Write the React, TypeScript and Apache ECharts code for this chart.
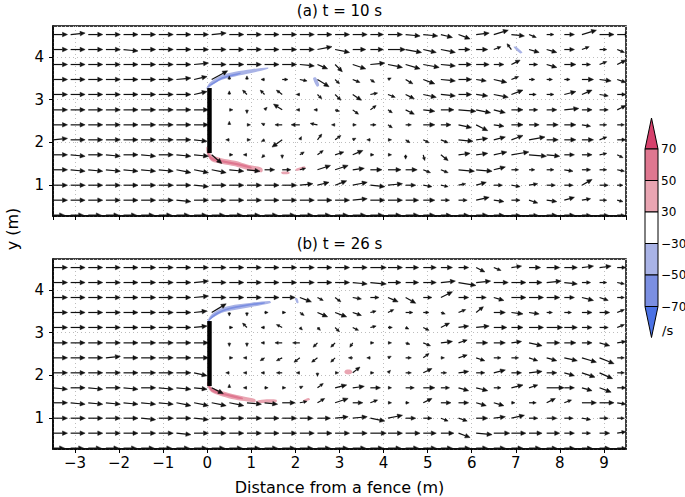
import React, { useEffect, useRef } from "react";
import * as echarts from "echarts";

// ---- grid of the vector field (m) ----
const X_GRID = [-3.5, -3.1, -2.7, -2.3, -1.9, -1.5, -1.1, -0.7, -0.3, 0.1, 0.5, 0.9, 1.3, 1.7, 2.1, 2.5, 2.9, 3.3, 3.7, 4.1, 4.5, 4.9, 5.3, 5.7, 6.1, 6.5, 6.9, 7.3, 7.7, 8.1, 8.5, 8.9, 9.3];
// rows listed from top (y = 4.52) to bottom (y = 0.30)
const Y_ROWS = [4.52, 4.17, 3.82, 3.47, 3.12, 2.76, 2.41, 2.06, 1.71, 1.36, 1.0, 0.65, 0.3];

// ---- panel (a) t = 10 s : u and v components (10 = free-stream arrow) ----
const U_A = [
  [10,10,10,10,10,10,10,10,10,10,10,10,10,10,10,10, 10,10,9,10,10,10, 8,8,9,10,9,5,5,7,10,10,9],
  [10,10,10,10,10,10,10,10,10,10,10,10,10,10,10,10, 10,9,9,12,11,9, 10,8,8,5,-3,7,7,7,5,5,5],
  [10,10,10,10,10,10,10,10,10,10,10,10,10,10,10,7, 5,9,10,10,10,11, 10,9,9,7,6,6,7,8,6,5,6],
  [10,10,10,10,10,10,10,10,9,11,0,0,-1,4,5,8, 3,5,3,2,5,8, 10,9,7,9,5,4,4,4,8,8,6],
  [10,10,10,10,10,10,10,10,9,0,0,-3,-3,-4,-2,3, 4,6,5,5,6,9, 10,9,8,10,8,5,5,8,7,6,6],
  [10,10,10,10,10,10,10,10,10,0,1,0,1,-6,-2,-2, 3,4,4,3,6,8, 9,12,10,8,8,6,7,10,7,6,6],
  [10,10,10,10,10,10,10,10,10,0,0,2,-2,-5,-6,-5, -2,2,4,3,4,8, 7,9,8,7,8,7,8,8,6,5,5],
  [10,10,10,10,10,10,10,10,9,0,-1,2,-2,-7,1,3, 4,2,-2,1,3,4, 5,10,8,8,8,11,8,8,8,5,6],
  [10,10,10,10,10,10,10,10,10,7,1,-1,-2,0,3,4, 6,7,2,1,0,1, 5,8,8,9,12,12,9,7,7,5,4],
  [10,10,10,10,10,10,10,10,10,10,10,9,7,6,4,9, 9,8,8,9,8,5, 5,11,11,8,5,4,5,6,6,5,5],
  [10,10,10,10,10,10,10,10,10,10,10,10,10,10,9,8, 8,10,10,10,7,6, 5,5,7,6,6,6,6,6,7,6,4],
  [10,10,10,10,10,10,10,10,10,10,10,10,10,10,10,10, 10,10,10,10,9,8, 6,6,9,7,6,6,7,7,6,5,4],
  [8,9,9,9,9,9,9,9,9,9,9,9,9,9,9,9, 9,9,9,9,9,8, 7,7,8,7,6,6,7,7,6,6,5],
];
const V_A = [
  [0,1,0,0,0,0,0,0,0,1,0,0,0,0,0,0, 0,0,0,0,-1,-1, -2,-3,1,3,-1,-2,0,0,3,0,0],
  [0,0,0,0,-1,0,0,0,0,0,0,0,0,0,0,2, -2,0,0,0,-2,-2, -2,0,0,2,4,-2,-2,0,2,0,-2],
  [0,0,0,0,0,0,0,0,1,0,0,0,0,0,-1,-3, -5,-3,1,-2,-3,-2, -1,0,0,0,3,0,-2,0,0,2,3],
  [0,0,0,0,0,0,0,1,2,6,2,1,0,0,-1,-5, -3,-2,-2,1,-3,-3, -1,0,-1,-2,2,0,0,0,0,-1,-2],
  [0,0,0,0,0,0,0,0,2,0,2,3,3,3,0,-3, -4,-4,1,-2,-3,-2, -1,0,-1,-2,3,0,0,2,3,-1,0],
  [0,0,0,0,0,0,0,0,0,0,0,-2,1,4,0,0, -1,-3,3,-2,-3,-1, 0,-1,-2,-2,0,0,0,1,0,0,3],
  [0,0,0,0,0,0,0,0,0,0,2,0,1,0,0,1, 0,0,0,-2,0,0, 0,-2,-4,-1,0,0,0,0,-1,0,0],
  [1,0,0,0,0,0,0,0,-1,0,0,0,-1,-5,2,4, 3,1,0,0,-2,-2, -2,-1,1,2,3,2,0,0,0,2,0],
  [0,-1,0,-1,0,-1,0,-1,-1,-6,0,0,-2,-2,2,3, 2,3,0,0,-3,-4, -4,1,1,2,2,-1,-1,0,0,1,-2],
  [0,-1,-1,-1,-1,-1,-1,-2,-2,-2,-1,-1,0,0,1,3, 3,1,0,0,0,-2, -2,-1,-1,2,0,0,0,-1,0,0,-1],
  [0,0,0,0,0,0,0,0,-1,0,0,0,0,0,1,2, 3,2,-1,1,0,-1, -1,1,2,0,-1,1,0,0,4,0,0],
  [0,0,0,0,0,0,0,-1,0,0,0,0,0,0,0,0, 0,1,0,0,0,0, 0,0,2,-1,0,-2,-1,2,1,0,-1],
  [0,0,0,0,0,0,0,0,0,0,0,0,0,0,0,0, 0,0,0,0,0,0, 0,0,0,0,0,0,0,0,0,0,0],
];

// ---- panel (b) t = 26 s ----
const U_B = [
  [10,10,10,10,10,10,10,10,10,10,10,10,10,10,10,10, 10,10,11,10,9,9, 8,7,6,5,7,8,9,9,8,8,6],
  [10,10,10,10,10,10,10,10,10,10,10,10,10,10,10,10, 10,10,11,9,9,9, 10,12,10,10,10,9,10,9,6,5,5],
  [10,10,10,10,10,10,10,10,10,10,10,10,10,9,8,4, 4,6,6,7,7,6, 8,7,7,7,10,10,9,7,8,6,5],
  [10,10,10,10,10,10,10,10,9,10,0,0,1,1,3,7, 8,6,4,4,5,4, 3,5,5,8,8,7,4,5,7,7,5],
  [10,10,10,10,10,10,10,10,9,0,2,-3,-2,-4,1,2, 3,4,4,3,2,4, 6,7,9,9,8,10,11,9,7,6,5],
  [10,10,10,10,10,10,10,10,10,0,0,0,-1,-5,-5,-3, -3,-2,1,1,3,5, 8,6,8,8,7,9,9,8,7,7,6],
  [10,10,10,10,10,10,10,10,10,0,1,-1,-3,-4,-4,-4, -3,-3,-1,2,4,4, 1,6,6,5,5,6,7,9,10,10,5],
  [10,10,10,10,10,10,10,10,9,0,-1,-1,-1,-4,-1,0, 1,5,2,1,4,6, 4,7,6,8,7,9,7,7,9,9,5],
  [10,10,10,10,10,10,10,10,9,8,0,-1,1,1,2,4, 8,8,7,2,6,8, 6,7,8,5,8,6,12,7,7,8,6],
  [10,10,10,10,10,10,10,10,10,10,10,10,9,9,5,5, 9,7,5,2,2,6, 7,7,7,7,2,5,6,5,10,10,6],
  [10,10,10,10,10,10,10,10,10,10,10,10,10,10,9,9, 9,10,10,10,7,6, 5,6,8,8,9,6,7,6,6,6,5],
  [10,10,10,10,10,10,10,10,10,10,10,10,10,10,10,10, 10,10,11,10,10,9, 9,8,11,11,10,9,9,7,6,7,6],
  [8,9,9,9,9,9,9,9,9,9,9,9,9,9,9,9, 9,9,9,9,9,9, 8,8,8,8,8,8,7,7,7,7,6],
];
const V_B = [
  [0,0,0,0,0,0,0,0,0,0,0,0,0,0,0,0, 0,0,0,0,0,0, 0,0,-3,-2,1,0,0,0,1,1,0],
  [0,0,0,0,0,0,0,0,1,0,0,0,0,0,0,0, 0,-1,-1,0,0,0, 1,-2,1,0,0,0,1,-1,0,0,-1],
  [0,0,0,0,0,0,0,0,1,0,0,0,0,0,-3,-2, -3,-1,0,-3,-4,0, 4,0,0,-2,0,0,0,0,-2,-2,0],
  [0,0,0,0,0,0,0,0,1,6,-1,-1,0,0,-2,-3, -3,-2,1,2,0,0, -1,2,4,0,-1,-1,0,0,0,0,2],
  [0,0,0,0,0,0,0,0,1,0,0,3,0,2,-1,-2, -3,-2,1,0,-1,-2, 3,1,1,0,0,0,0,0,0,0,2],
  [0,0,0,0,0,0,0,0,0,0,-1,-1,0,0,0,-3, -3,-3,0,0,-1,-2, 1,2,0,0,1,-2,0,0,0,-2,1],
  [0,0,0,1,0,0,0,0,0,0,0,0,-2,-2,-3,-3, -3,0,0,1,0,3, 0,2,-2,0,0,-2,-2,-2,-3,-4,0],
  [0,0,0,0,0,0,0,0,-2,0,0,0,0,0,0,-1, 0,4,0,1,0,3, 0,1,0,2,0,1,0,-2,-3,-4,0],
  [-1,0,-1,0,-1,0,-1,-1,-1,-4,1,0,0,0,1,3, 2,1,0,0,0,0, 0,-2,-2,0,2,2,0,0,-2,-3,0],
  [0,-1,-1,-1,-1,-1,-1,-2,-2,-2,-2,-1,-1,0,1,3, 3,0,2,0,0,3, 0,0,-2,-2,0,0,3,2,0,0,-1],
  [0,0,0,0,0,-1,0,0,-1,0,0,0,0,0,0,0, 1,1,-2,2,0,0, -2,-2,0,1,2,0,0,0,-1,0,0],
  [0,0,0,0,0,0,0,-1,0,0,0,0,0,0,0,0, 0,0,0,0,0,0, 0,-3,-1,0,0,0,0,0,0,0,1],
  [0,0,0,0,0,0,0,0,0,0,0,0,0,0,0,0, 0,0,0,0,0,0, 0,0,0,0,0,0,0,0,0,0,0],
];

// ---- fence (x, bottom, top) in m ----
const FENCE = [0.05, 1.75, 3.27];

// ---- vorticity patches (level in /s, outline in m) ----
const PATCHES_A = [
  { level: -40, pts: [[-0.02,3.27],[0.06,3.40],[0.32,3.57],[0.63,3.65],[1.0,3.71],[1.38,3.75],[1.38,3.72],[1.0,3.62],[0.63,3.54],[0.32,3.46],[0.1,3.33],[0.0,3.24]] },
  { level: -55, pts: [[0.0,3.29],[0.1,3.38],[0.35,3.53],[0.75,3.63],[0.75,3.60],[0.35,3.49],[0.1,3.34]] },
  { level: -40, pts: [[2.40,3.50],[2.46,3.52],[2.54,3.34],[2.49,3.30]] },
  { level: -35, pts: [[6.95,4.23],[7.0,4.24],[7.15,4.10],[7.1,4.08]] },
  { level: 40, pts: [[-0.02,1.90],[0.1,1.71],[0.32,1.63],[0.63,1.57],[0.93,1.48],[1.23,1.41],[1.26,1.35],[1.23,1.30],[0.93,1.35],[0.63,1.44],[0.32,1.50],[0.1,1.56],[0.0,1.71]] },
  { level: 55, pts: [[0.0,1.80],[0.1,1.66],[0.35,1.58],[0.7,1.51],[1.0,1.43],[1.0,1.39],[0.7,1.46],[0.35,1.53],[0.08,1.60]] },
  { level: 35, pts: [[1.68,1.31],[1.86,1.31],[1.86,1.27],[1.70,1.26]] },
  { level: 40, pts: [[2.0,1.37],[2.2,1.44],[2.23,1.40],[2.03,1.33]] },
];
const PATCHES_B = [
  { level: -40, pts: [[0.0,3.26],[0.09,3.42],[0.32,3.57],[0.62,3.65],[1.0,3.70],[1.42,3.74],[1.44,3.69],[1.0,3.60],[0.62,3.53],[0.32,3.46],[0.09,3.32],[0.02,3.22]] },
  { level: -55, pts: [[0.02,3.27],[0.12,3.40],[0.4,3.55],[0.9,3.66],[1.3,3.71],[1.3,3.68],[0.9,3.62],[0.4,3.51],[0.12,3.35]] },
  { level: -35, pts: [[1.99,3.80],[2.04,3.80],[2.07,3.70],[2.03,3.69]] },
  { level: 40, pts: [[0.0,1.86],[0.09,1.73],[0.28,1.65],[0.55,1.57],[0.85,1.50],[1.08,1.45],[1.1,1.40],[1.08,1.37],[0.85,1.40],[0.55,1.45],[0.28,1.53],[0.09,1.61],[0.0,1.75]] },
  { level: 55, pts: [[0.0,1.82],[0.12,1.68],[0.4,1.58],[0.8,1.48],[0.8,1.44],[0.4,1.53],[0.1,1.63]] },
  { level: 40, pts: [[1.12,1.40],[1.35,1.44],[1.57,1.43],[1.57,1.38],[1.35,1.36],[1.12,1.36]] },
  { level: 40, pts: [[2.17,1.41],[2.3,1.47],[2.33,1.43],[2.2,1.39]] },
  { level: 40, pts: [[3.11,2.08],[3.15,2.13],[3.25,2.13],[3.29,2.08],[3.25,2.03],[3.15,2.03]] },
];

// ---- colour bar ----
const CB_LEVELS = [70, 50, 30, -30, -50, -70];
const CB_COLORS = ["#d6416c", "#df7790", "#e9a5b2", "#ffffff", "#a9b3e6", "#7b8fe2", "#4b72e5"];
const TITLES = ["(a) t = 10 s", "(b) t = 26 s"];

function levelColor(v: number) {
  if (v >= 70) return CB_COLORS[0];
  if (v >= 50) return CB_COLORS[1];
  if (v >= 30) return CB_COLORS[2];
  if (v <= -70) return CB_COLORS[6];
  if (v <= -50) return CB_COLORS[5];
  if (v <= -30) return CB_COLORS[4];
  return CB_COLORS[3];
}

const FONT = "DejaVu Sans";
const ARROW_SCALE = 1.45; // px per unit

function vectorData(U: number[][], V: number[][]) {
  const out: number[][] = [];
  Y_ROWS.forEach((y, r) => {
    X_GRID.forEach((x, k) => {
      out.push([x, y, U[r][k], V[r][k]]);
    });
  });
  return out;
}

function arrowItem(params: any, api: any) {
  const x = api.value(0), y = api.value(1), u = api.value(2), v = api.value(3);
  const p = api.coord([x, y]);
  let dx = u * ARROW_SCALE, dy = -v * ARROW_SCALE;
  const L0 = Math.hypot(dx, dy);
  if (L0 < 0.5) return null;
  const ux = dx / L0, uy = dy / L0;
  const L = Math.max(L0, 3.6);
  dx = ux * L; dy = uy * L;
  const tip = [p[0] + dx, p[1] + dy];
  const hl = Math.min(5, Math.max(3.2, L * 0.45));
  const hw = hl * 0.45;
  const base = [tip[0] - ux * hl, tip[1] - uy * hl];
  const children: any[] = [];
  if (L - hl > 0.3) {
    children.push({ type: "line", shape: { x1: p[0], y1: p[1], x2: base[0], y2: base[1] }, style: { stroke: "#111", lineWidth: 1.2 } });
  }
  children.push({ type: "polygon", shape: { points: [tip, [base[0] - uy * hw, base[1] + ux * hw], [base[0] + uy * hw, base[1] - ux * hw]] }, style: { fill: "#111", stroke: "#111", lineWidth: 0.5 } });
  return { type: "group", children };
}

function patchSeries(patches: any[], idx: number) {
  return {
    type: "custom",
    xAxisIndex: idx,
    yAxisIndex: idx,
    clip: true,
    z: 1,
    encode: { x: 0, y: 1 },
    data: patches.map((p) => p.pts[0]),
    renderItem: (params: any, api: any) => {
      const p = patches[params.dataIndex];
      return {
        type: "polygon",
        shape: { points: p.pts.map((q: number[]) => api.coord(q)), smooth: 0.3 },
        style: { fill: levelColor(p.level), stroke: "none" },
      };
    },
  };
}

const tickFmt = (v: number) => {
  if (Math.abs(v - Math.round(v)) > 1e-6) return "";
  const r = Math.round(v);
  return r < 0 ? "\u2212" + Math.abs(r) : String(r);
};

const GRID_LEFT = 53, GRID_W = 573, GRID_H = 190;
const GRID_TOPS = [26, 259];
const CB = { x: 645, w: 13, tip: 118, top: 149, seg: 31.5 };

export default function App() {
  const ref = useRef<HTMLDivElement>(null);
  useEffect(() => {
    if (!ref.current) return;
    const chart = echarts.init(ref.current, null, { renderer: "svg" });
    const grids = GRID_TOPS.map((t) => ({
      left: GRID_LEFT, top: t, width: GRID_W, height: GRID_H,
      show: true, borderColor: "#000", borderWidth: 1.5, backgroundColor: "#fff",
    }));
    const xAxes = [0, 1].map((i) => ({
      gridIndex: i, type: "value", min: -3.5, max: 9.5, splitNumber: 13, minInterval: 1, maxInterval: 1,
      axisLine: { show: true, onZero: false, lineStyle: { color: "#000", width: 1.5 } },
      axisTick: { show: true, length: 4, lineStyle: { color: "#000", width: 1 } },
      axisLabel: { show: i === 1, formatter: tickFmt, color: "#000", fontSize: 15, margin: 6, fontFamily: FONT, showMinLabel: false, showMaxLabel: false },
      splitLine: { show: true, lineStyle: { type: [1, 3], color: "#bdbdbd", width: 1 } },
    }));
    const yAxes = [0, 1].map((i) => ({
      gridIndex: i, type: "value", min: 0.28, max: 4.72, splitNumber: 4, minInterval: 1, maxInterval: 1,
      axisLine: { show: true, onZero: false, lineStyle: { color: "#000", width: 1.5 } },
      axisTick: { show: true, length: 4, lineStyle: { color: "#000", width: 1 } },
      axisLabel: { formatter: tickFmt, color: "#000", fontSize: 15, margin: 9, fontFamily: FONT, showMinLabel: false, showMaxLabel: false },
      splitLine: { show: true, lineStyle: { type: [1, 3], color: "#bdbdbd", width: 1 } },
    }));
    const series: any[] = [];
    [[U_A, V_A, PATCHES_A], [U_B, V_B, PATCHES_B]].forEach(([U, V, P]: any, i) => {
      series.push(patchSeries(P, i));
      series.push({
        type: "custom", xAxisIndex: i, yAxisIndex: i, clip: true, z: 2,
        encode: { x: 0, y: 1 },
        data: vectorData(U, V),
        renderItem: arrowItem,
      });
      series.push({
        type: "custom", xAxisIndex: i, yAxisIndex: i, clip: true, z: 3,
        encode: { x: 0, y: [1, 2] },
        data: [FENCE],
        renderItem: (params: any, api: any) => {
          const a = api.coord([api.value(0), api.value(1)]);
          const b = api.coord([api.value(0), api.value(2)]);
          return { type: "line", shape: { x1: a[0], y1: a[1], x2: b[0], y2: b[1] }, style: { stroke: "#000", lineWidth: 4.5 } };
        },
      });
    });

    // colour bar graphics
    const cbEls: any[] = [];
    const segTop = (i: number) => CB.top + i * CB.seg;
    const bottomBase = segTop(5);
    cbEls.push({ type: "polygon", shape: { points: [[CB.x, CB.top], [CB.x + CB.w / 2, CB.tip], [CB.x + CB.w, CB.top]] }, style: { fill: CB_COLORS[0], stroke: "#000", lineWidth: 1 } });
    for (let i = 0; i < 5; i++) {
      cbEls.push({ type: "rect", shape: { x: CB.x, y: segTop(i), width: CB.w, height: CB.seg }, style: { fill: CB_COLORS[i + 1], stroke: "#000", lineWidth: 1 } });
    }
    cbEls.push({ type: "polygon", shape: { points: [[CB.x, bottomBase], [CB.x + CB.w / 2, bottomBase + (CB.top - CB.tip)], [CB.x + CB.w, bottomBase]] }, style: { fill: CB_COLORS[6], stroke: "#000", lineWidth: 1 } });
    CB_LEVELS.forEach((lv, i) => {
      cbEls.push({ type: "text", x: CB.x + CB.w + 3, y: segTop(i), style: { text: lv < 0 ? "\u2212" + Math.abs(lv) : String(lv), font: `12px '${FONT}'`, fill: "#000", textVerticalAlign: "middle", textAlign: "left" } });
    });
    cbEls.push({ type: "text", x: CB.x + CB.w + 4, y: bottomBase + 24, style: { text: "/s", font: `13px '${FONT}'`, fill: "#000", textVerticalAlign: "middle", textAlign: "left" } });

    const titleEls = TITLES.map((t, i) => ({
      type: "text", x: GRID_LEFT + GRID_W / 2, y: GRID_TOPS[i] - 15,
      style: { text: t, font: `15px '${FONT}'`, fill: "#000", textAlign: "center", textVerticalAlign: "middle" },
    }));

    chart.setOption({
      animation: false,
      backgroundColor: "#fff",
      grid: grids,
      xAxis: xAxes,
      yAxis: yAxes,
      series,
      graphic: [
        ...titleEls,
        { type: "text", x: GRID_LEFT + GRID_W / 2, y: 487, style: { text: "Distance from a fence (m)", font: `16px '${FONT}'`, fill: "#000", textAlign: "center", textVerticalAlign: "middle" } },
        { type: "text", x: 12, y: 229, rotation: Math.PI / 2, style: { text: "y (m)", font: `16px '${FONT}'`, fill: "#000", textAlign: "center", textVerticalAlign: "middle" } },
        ...cbEls,
      ],
    });
    return () => chart.dispose();
  }, []);
  return <div ref={ref} style={{ position: "fixed", left: 0, top: 0, width: 685, height: 497, background: "#fff" }} />;
}
